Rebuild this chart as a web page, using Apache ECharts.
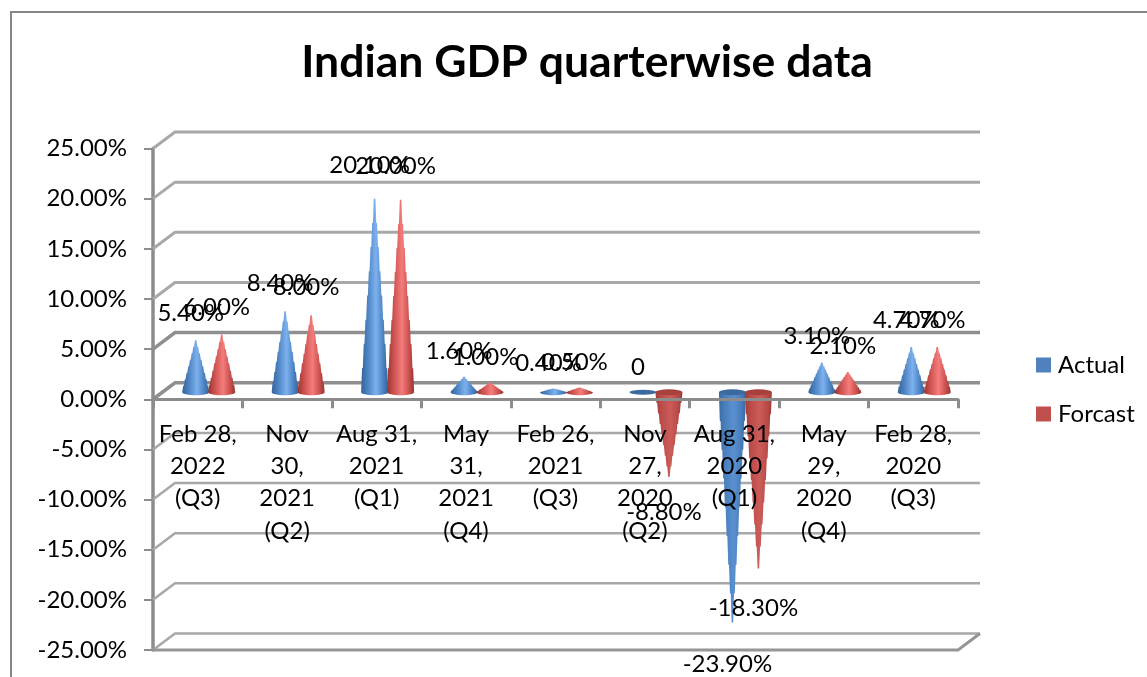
<!DOCTYPE html>
<html>
<head>
<meta charset="utf-8">
<title>Indian GDP quarterwise data</title>
<script src="https://cdn.jsdelivr.net/npm/echarts@6/dist/echarts.min.js"></script>
<style>
  html, body { margin: 0; padding: 0; background: #fff; overflow: hidden; }
  #chart { width: 1147px; height: 677px; }
</style>
</head>
<body>
<div id="chart"></div>
<script>
// Quarter labels, newest first
const categories = [
  'Feb 28,\n2022\n(Q3)', 'Nov\n30,\n2021\n(Q2)', 'Aug 31,\n2021\n(Q1)',
  'May\n31,\n2021\n(Q4)', 'Feb 26,\n2021\n(Q3)', 'Nov\n27,\n2020\n(Q2)',
  'Aug 31,\n2020\n(Q1)', 'May\n29,\n2020\n(Q4)', 'Feb 28,\n2020\n(Q3)'
];
// GDP growth, percent
const actual  = [5.4, 8.4, 20.1, 1.6, 0.4, 0, -23.9, 3.1, 4.7];
const forcast = [6.0, 8.0, 20.0, 1.0, 0.5, -8.8, -18.3, 2.1, 4.7];
const wallTicks = [25, 20, 15, 10, 5, 0, -5, -10, -15, -20, -25];

const FONT = 'Lato, "Open Sans", sans-serif';
const TEXT_SIZE = 24;
// Offset of the back wall from the front plane of the 3D box
const WALL_DX = 22, WALL_DY = -16.5;
// Cones stand halfway into the box and are slightly foreshortened
const CONE_DX = 11, CONE_DY = -7, CONE_SCALE = 0.96;
const CONE_WIDTH = 27, CONE_SPREAD = 13, CONE_TIERS = 8;

const palettes = {
  Actual: {
    swatch: '#4f81bd', lid: '#3c6a9f',
    up: ['#34649a', '#4a80c0', '#7db1ee', '#4d84c4', '#34649a'],
    down: ['#3a6aa2', '#4a7fbe', '#5b90d0', '#4a7fbe', '#3a6aa2']
  },
  Forcast: {
    swatch: '#c0504d', lid: '#a8403d',
    up: ['#98352f', '#c84f4d', '#f47c7a', '#cb5250', '#98352f'],
    down: ['#a03c39', '#bc4c4a', '#cc5c5a', '#bc4c4a', '#a03c39']
  }
};

function gradient(colors) {
  return new echarts.graphic.LinearGradient(0, 0, 1, 0, colors.map(function (c, i) {
    return { offset: [0, 0.22, 0.55, 0.8, 1][i], color: c };
  }));
}

function ellipseArc(cx, cy, rx, ry, from, to) {
  const pts = [];
  for (let k = 0; k <= 16; k++) {
    const a = from + (to - from) * k / 16;
    pts.push([cx + rx * Math.cos(a), cy + ry * Math.sin(a)]);
  }
  return pts;
}

// Stepped cone silhouette: base edge to apex on the left, back down on the right
function conePoints(cx, baseY, apexY) {
  const half = CONE_WIDTH / 2;
  const tiers = [];
  for (let k = 0; k < CONE_TIERS; k++) {
    const t0 = k / CONE_TIERS, t1 = (k + 1) / CONE_TIERS;
    const h0 = half * (1 - t0), h1 = half * (1 - t1);
    tiers.push({
      y0: baseY + (apexY - baseY) * t0,
      y1: baseY + (apexY - baseY) * t1,
      h0: h0,
      h1: h1 + (h0 - h1) * 0.45
    });
  }
  const pts = [];
  tiers.forEach(function (s) { pts.push([cx - s.h0, s.y0], [cx - s.h1, s.y1]); });
  pts.push([cx, apexY]);
  tiers.slice().reverse().forEach(function (s) { pts.push([cx + s.h1, s.y1], [cx + s.h0, s.y0]); });
  return pts;
}

function coneSeries(name, values, side) {
  const colors = palettes[name];
  return {
    name: name,
    type: 'custom',
    z: 3,
    itemStyle: { color: colors.swatch },
    data: values.map(function (v, i) { return [i, v]; }),
    encode: { x: 0, y: 1 },
    renderItem: function (params, api) {
      const idx = api.value(0), val = api.value(1);
      const zero = api.coord([idx, 0]);
      const tip = api.coord([idx, val]);
      const cx = zero[0] + CONE_DX + side * CONE_SPREAD;
      const baseY = zero[1] + CONE_DY;
      const apexY = baseY + (tip[1] - zero[1]) * CONE_SCALE;
      const rx = CONE_WIDTH / 2, ry = 3;
      const children = [];

      if (val > 0) {
        const outline = conePoints(cx, baseY, apexY).concat(ellipseArc(cx, baseY, rx, ry, 0, Math.PI));
        children.push({ type: 'polygon', shape: { points: outline }, style: { fill: gradient(colors.up) } });
      } else if (val < 0) {
        children.push({ type: 'polygon', shape: { points: conePoints(cx, baseY, apexY) }, style: { fill: gradient(colors.down) } });
        children.push({ type: 'polygon', shape: { points: ellipseArc(cx, baseY, rx, ry, 0, Math.PI * 2) }, style: { fill: colors.lid } });
      } else {
        children.push({ type: 'polygon', shape: { points: ellipseArc(cx, baseY, rx, 2.5, 0, Math.PI * 2) }, style: { fill: colors.lid } });
      }

      // Value label hangs off the axis scale, not the cone tip
      const labelY = val < 0 ? tip[1] + 25 : tip[1] - 32;
      children.push({
        type: 'text',
        style: {
          text: val === 0 ? '0' : val.toFixed(2) + '%',
          x: cx - 5, y: labelY,
          align: 'center', verticalAlign: 'middle',
          font: TEXT_SIZE + 'px ' + FONT, fill: '#000'
        }
      });
      return { type: 'group', children: children };
    }
  };
}

// Back wall gridlines, side-wall diagonals and the floor
const wallSeries = {
  type: 'custom',
  silent: true,
  z: 1,
  data: wallTicks.map(function (v) { return [0, v]; }),
  encode: { x: 0, y: 1 },
  renderItem: function (params, api) {
    const v = api.value(1);
    const grid = params.coordSys;
    const y = api.coord([0, v])[1];
    const x0 = grid.x, x1 = grid.x + grid.width;
    const heavy = v === 0 || v === 5;
    const children = [{
      type: 'polyline',
      shape: { points: [[x0, y], [x0 + WALL_DX, y + WALL_DY], [x1 + WALL_DX, y + WALL_DY]] },
      style: { fill: 'none', stroke: heavy ? '#8f8f8f' : '#a8a8a8', lineWidth: heavy ? 3.5 : (v > 5 ? 3 : 2.5) }
    }];
    if (v === -25) {
      children.push({
        type: 'polyline',
        shape: { points: [[x0, y], [x1, y], [x1 + WALL_DX, y + WALL_DY]] },
        style: { fill: 'none', stroke: '#969696', lineWidth: 3 }
      });
    }
    return { type: 'group', children: children };
  }
};

const chart = echarts.init(document.getElementById('chart'), null, { renderer: 'canvas' });
chart.setOption({
  animation: false,
  backgroundColor: '#fff',
  title: {
    text: 'Indian GDP quarterwise data',
    left: 582, top: 35, textAlign: 'center',
    textStyle: { fontFamily: FONT, fontSize: 44.5, fontWeight: 'bold', color: '#000' }
  },
  legend: {
    orient: 'vertical', left: 1031, top: 348,
    itemWidth: 15, itemHeight: 15, itemGap: 25,
    data: [{ name: 'Actual', icon: 'rect' }, { name: 'Forcast', icon: 'rect' }],
    textStyle: { fontFamily: FONT, fontSize: TEXT_SIZE, color: '#000', padding: [0, 0, 0, 2] }
  },
  grid: { left: 153, right: 189, top: 148.5, bottom: 27, containLabel: false, outerBoundsMode: 'none' },
  xAxis: {
    type: 'category', data: categories, z: 6,
    axisLine: { onZero: true, lineStyle: { color: '#8c8c8c', width: 3 } },
    axisTick: { show: true, length: 9, lineStyle: { color: '#8c8c8c', width: 3 } },
    axisLabel: {
      // labels stay at the grid's lower edge, so pull them back up under the zero line
      interval: 0, margin: -232, fontFamily: FONT, fontSize: TEXT_SIZE,
      lineHeight: 32.3, color: '#000'
    },
    splitLine: { show: false }
  },
  yAxis: {
    type: 'value', min: -25, max: 25, interval: 5,
    axisLine: { show: true, lineStyle: { color: '#8c8c8c', width: 3.5 } },
    axisTick: { show: true, length: 9, lineStyle: { color: '#8c8c8c', width: 2 } },
    axisLabel: {
      margin: 26, fontFamily: FONT, fontSize: TEXT_SIZE, color: '#000',
      formatter: function (v) { return v.toFixed(2) + '%'; }
    },
    splitLine: { show: false }
  },
  graphic: [{
    type: 'rect', silent: true, z: -1,
    shape: { x: 11, y: 12, width: 1300, height: 900 },
    style: { fill: 'none', stroke: '#868686', lineWidth: 2 }
  }],
  series: [wallSeries, coneSeries('Actual', actual, -1), coneSeries('Forcast', forcast, 1)]
});
</script>
</body>
</html>
